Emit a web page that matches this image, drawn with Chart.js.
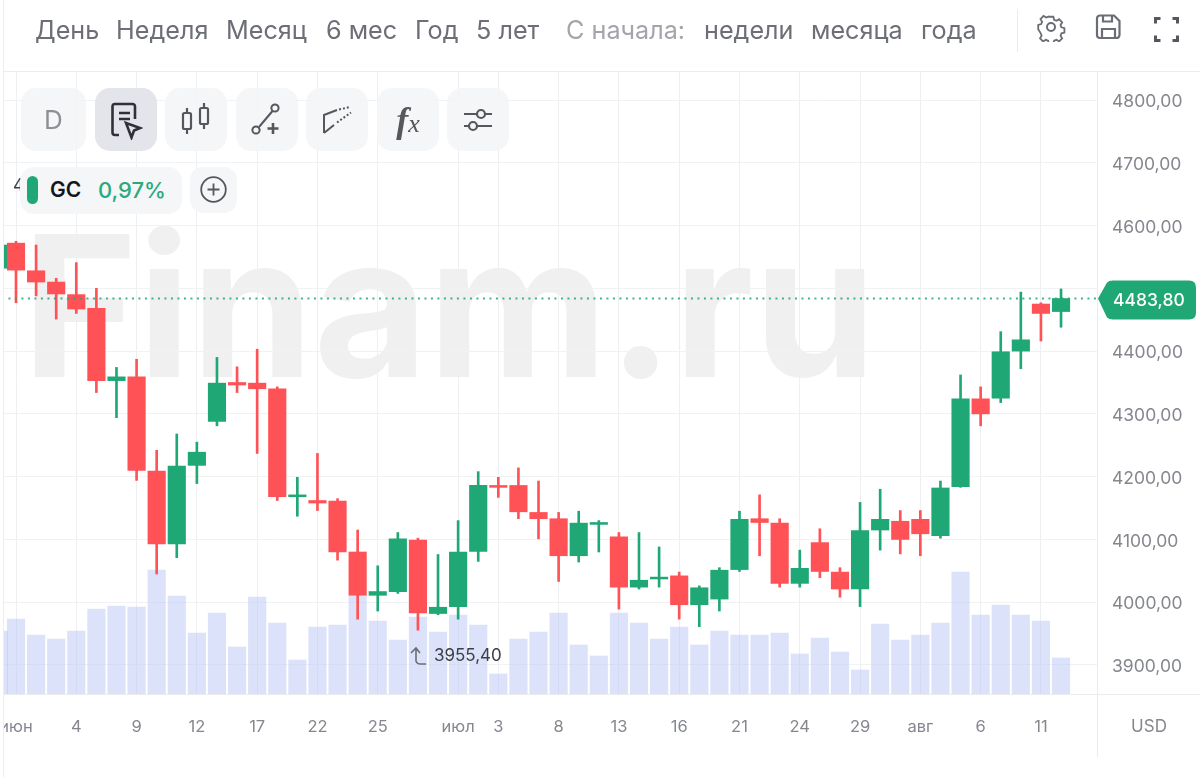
<!DOCTYPE html>
<html lang="ru">
<head>
<meta charset="utf-8">
<script src="https://cdn.jsdelivr.net/npm/chart.js@4"></script>
<style>
html,body{margin:0;padding:0;background:#fff;width:1200px;height:777px;overflow:hidden;font-family:Inter,sans-serif}
#wrap{position:relative;width:1200px;height:777px}
canvas{position:absolute;left:0;top:0}
.abs{position:absolute}
.nav{position:absolute;top:14px;font-size:25.200px;line-height:32px;color:#6d6f76;white-space:nowrap}
.nav.dim{color:#a3a5ab}
.btn{position:absolute;top:88px;width:62px;height:63px;border-radius:15px;background:rgba(243,244,247,.85);display:flex;align-items:center;justify-content:center;color:#6b6d74}
svg{display:block}
</style>
</head>
<body>
<div id="wrap">
<canvas id="c" width="1200" height="777"></canvas>

<div class="abs" style="left:0;top:694px;width:3px;height:40px;background:#fff"></div>
<div class="abs" style="left:3px;top:0;width:1px;height:777px;background:#eceded"></div>
<div class="abs" style="left:3px;top:71px;width:1197px;height:1px;background:#ebecee"></div>
<div class="abs" style="left:3px;top:694px;width:1197px;height:1px;background:#ebecee"></div>
<div class="abs" style="left:1097px;top:71px;width:1px;height:686px;background:#ebecee"></div>
<div class="abs" style="left:1017px;top:9px;width:1px;height:43px;background:#ebecee"></div>

<div class="nav" style="left:35px">День</div>
<div class="nav" style="left:116px">Неделя</div>
<div class="nav" style="left:226px">Месяц</div>
<div class="nav" style="left:326px">6 мес</div>
<div class="nav" style="left:415px">Год</div>
<div class="nav" style="left:476px">5 лет</div>
<div class="nav dim" style="left:566px">С начала:</div>
<div class="nav" style="left:704px">недели</div>
<div class="nav" style="left:811px">месяца</div>
<div class="nav" style="left:921px">года</div>

<svg class="abs" style="left:1036px;top:12px" width="30" height="30" viewBox="0 0 30 30" fill="none" stroke="#6b6d74" stroke-width="2"><circle cx="15" cy="15" r="4"/><path d="M12.5 3.5h5l.8 3.4 2.6 1.1 3-1.8 3.400 3.500-1.800 3 1 2.500 3.300.9v5l-3.300.8-1 2.600 1.800 3-3.400 3.400-3-1.800-2.600 1-.8 3.400h-5l-.8-3.400-2.600-1-3 1.800-3.400-3.400 1.800-3-1-2.600L.7 17.500v-5l3.300-.9 1-2.500-1.800-3 3.400-3.500 3 1.800 2.600-1.100z" transform="translate(1.600 1.600) scale(.9)"/></svg>
<svg class="abs" style="left:1095px;top:13px" width="27" height="27" viewBox="0 0 27 27" fill="none" stroke="#6b6d74" stroke-width="2.200"><path d="M5 2.500h14l5.500 5.500v14a3 3 0 0 1-3 3h-16.500a3 3 0 0 1-3-3v-16.500a3 3 0 0 1 3-3z"/><path d="M8 2.500v6h9v-6M7 25v-9h13v9"/></svg>
<svg class="abs" style="left:1154px;top:17px" width="25" height="25" viewBox="0 0 25 25" fill="none" stroke="#55575e" stroke-width="3"><path d="M1.500 6.500V1.500H6.500M18.500 1.500h5V6.500M23.500 18.500v5H18.500M6.500 23.500H1.500V18.500"/></svg>

<div class="btn" style="left:21px;width:65px;font-size:26px;color:#8d8f96">D</div>
<div class="btn" style="left:95px;background:#e4e5ea">
<svg width="34" height="40" viewBox="0 0 34 40" fill="none" stroke="#2f3138" stroke-width="2.600"><path d="M10 35H6a2.500 2.500 0 0 1-2.500-2.500v-26A2.500 2.500 0 0 1 6 4h17.500A2.500 2.500 0 0 1 26 6.500V19"/><path d="M10 13h11M10 19h11"/><path d="M17 23l14 5-6 2.500-2.500 7z"/></svg></div>
<div class="btn" style="left:165px"><svg width="32" height="36" viewBox="0 0 32 36" fill="none" stroke="#55575e" stroke-width="2.200"><rect x="3" y="11" width="8" height="16" rx="1.500"/><path d="M7 6v5M7 27v5"/><rect x="20" y="6" width="8" height="16" rx="1.500"/><path d="M24 1v5M24 22v5"/></svg></div>
<div class="btn" style="left:236px"><svg width="32" height="34" viewBox="0 0 32 34" fill="none" stroke="#55575e" stroke-width="2"><circle cx="5" cy="27" r="3.600"/><circle cx="24" cy="5" r="3.600"/><path d="M8 24L21.500 8"/><path d="M22 20v11M16.500 25.500h11" stroke-width="2.600"/></svg></div>
<div class="btn" style="left:306px"><svg width="32" height="32" viewBox="0 0 32 32" fill="none" stroke="#55575e" stroke-width="2"><path d="M3 29V11L16 6M3 29l10-8" /><path d="M18 5.500l11-2.500M16 18.500l14-10" stroke-dasharray="2 2"/></svg></div>
<div class="btn" style="left:377px;font-family:'Liberation Serif',serif;font-style:italic;color:#55575e;font-size:36px;font-weight:700"><span>f<span style="font-size:26px;font-weight:400">x</span></span></div>
<div class="btn" style="left:447px"><svg width="32" height="30" viewBox="0 0 32 30" fill="none" stroke="#55575e" stroke-width="2.200"><path d="M2 9h28M2 21h28"/><circle cx="19" cy="9" r="4" fill="#f4f5f7"/><circle cx="11" cy="21" r="4" fill="#f4f5f7"/></svg></div>

<div class="abs" style="left:13px;top:175px;font-size:17px;color:#3d4049">4</div>
<div class="abs" style="left:20px;top:167px;width:162px;height:47px;border-radius:14px;background:#f5f6f8"></div>
<div class="abs" style="left:27px;top:176px;width:11px;height:28px;border-radius:6px;background:#1fa876"></div>
<div class="abs" style="left:50px;top:177px;font-size:21px;line-height:26px;font-weight:600;color:#16171b">GC</div>
<div class="abs" style="left:98px;top:177px;font-size:22px;line-height:26px;font-weight:500;color:#2aa97c">0,97%</div>
<div class="abs" style="left:190px;top:167px;width:47px;height:46px;border-radius:13px;background:#f5f6f8"></div>
<svg class="abs" style="left:200px;top:176px" width="27" height="27" viewBox="0 0 27 27" fill="none" stroke="#55575e" stroke-width="1.800"><circle cx="13.500" cy="13.500" r="12.300"/><path d="M13.500 7.500v12M7.500 13.500h12"/></svg>

<div class="abs" style="left:1120px;top:715px;width:58px;text-align:center;font-size:17px;line-height:22px;color:#85878e">USD</div>
<svg class="abs" style="left:409px;top:646px" width="18" height="20" viewBox="0 0 18 20" fill="none" stroke="#6b6d74" stroke-width="1.600"><path d="M2 7l5-5 4 5M7 3v10a4 4 0 0 0 4 5h6"/></svg>
</div>

<script>
const tickSlots  = [1,4,7,10,13,16,19,23,25,28,31,34,37,40,43,46,49,52];
const tickLabels = ['июн','4','9','12','17','22','25','июл','3','8','13','16','21','24','29','авг','6','11'];
const priceTicks = [3900,4000,4100,4200,4300,4400,4500,4600,4700,4800];

const slots = [0.15,1,2,3,4,5,6,7,8,9,10,11,12,13,14,15,16,17,18,19,20,21,22,23,24,25,26,27,28,29,30,31,32,33,34,35,36,37,38,39,40,41,42,43,44,45,46,47,48,49,50,51,52,53];
const opens  = [4532,4572,4528,4510,4490,4468,4353,4359,4209,4093,4218,4288,4350,4349,4340,4168,4162,4161,4080,4011,4017,4099,3982,3993,4081,4186,4186,4143,4133,4074,4124,4104,4024,4037,4042,3996,4005,4052,4133,4126,4030,4095,4048,4021,4115,4129,4132,4106,4184,4324,4325,4400,4475,4463];
const highs  = [4572,4575,4569,4516,4541,4500,4374,4387,4242,4268,4255,4390,4375,4403,4343,4199,4237,4165,4115,4058,4111,4102,4076,4130,4208,4199,4214,4193,4143,4145,4130,4111,4111,4088,4048,4026,4055,4145,4171,4133,4083,4117,4055,4159,4180,4146,4146,4193,4362,4343,4431,4494,4477,4499];
const lows   = [4530,4477,4488,4451,4460,4334,4294,4194,4045,4071,4189,4281,4334,4237,4162,4137,4146,4067,3973,3986,4014,3955.4,3980,3973,4065,4167,4133,4101,4033,4064,4080,3989,4021,4024,3973,3961,3986,4049,4074,4024,4024,4039,4008,3993,4083,4077,4074,4102,4183,4281,4318,4372,4416,4438];
const closes = [4569,4529,4510,4491,4467,4353,4359,4210,4093,4217,4239,4349,4346,4340,4168,4171,4158,4080,4011,4017,4101,3983,3992,4080,4186,4183,4144,4133,4074,4126,4127,4024,4035,4040,3996,4023,4051,4132,4127,4030,4054,4049,4021,4114,4132,4100,4109,4182,4324,4300,4399,4418,4460,4483.8];
const volumes = [63,75,59,55,63,85,88,87,124,98,61,81,47,97,71,34,67,69,98,73,54,77,62,79,69,20,55,62,81,49,38,81,71,55,67,49,63,59,59,61,40,56,42,24,70,54,59,71,122,79,89,79,73,36];

const UP = '#1fa876', DOWN = '#ff5256';
const lastPrice = closes[closes.length - 1];
const lowPrice = Math.min(...lows);
const lowSlot = slots[lows.indexOf(lowPrice)];
const fmt = v => v.toFixed(2).replace('.', ',');
const colors = opens.map((o, i) => closes[i] >= o ? UP : DOWN);

const watermark = {
  id: 'watermark',
  beforeDraw(chart) {
    const c = chart.ctx;
    c.save();
    c.fillStyle = '#fff';
    c.fillRect(0, 0, 1200, 777);
    c.fillStyle = '#f0f0f0';
    c.font = '700 197px Inter, sans-serif';
    c.textBaseline = 'alphabetic';
    c.textAlign = 'left';
    c.fillText('Finam.ru', 22, 377);
    c.restore();
    chart.scales.y.getLabelItems().forEach(item => { item.options.translation[1] += 2; });
  }
};
const overlays = {
  id: 'overlays',
  afterDraw(chart) {
    const c = chart.ctx, y = chart.scales.y, x = chart.scales.x;
    const py = y.getPixelForValue(lastPrice);
    c.save();
    c.fillStyle = UP;
    c.beginPath();
    const l = 1098, t = py - 18, r = 1196, b = py + 21, rad = 7;
    c.moveTo(l, py);
    c.lineTo(l + 9, t + 2);
    c.quadraticCurveTo(l + 11, t, l + 15, t);
    c.lineTo(r - rad, t);
    c.quadraticCurveTo(r, t, r, t + rad);
    c.lineTo(r, b - rad);
    c.quadraticCurveTo(r, b, r - rad, b);
    c.lineTo(l + 15, b);
    c.quadraticCurveTo(l + 11, b, l + 9, b - 2);
    c.closePath();
    c.fill();
    c.fillStyle = '#fff';
    c.font = '500 17.500px Inter, sans-serif';
    c.textAlign = 'left';
    c.textBaseline = 'middle';
    c.fillText(fmt(lastPrice), 1113, py + 2.5);
    c.fillStyle = '#3d4049';
    c.font = '400 17px Inter, sans-serif';
    c.fillText(fmt(lowPrice), x.getPixelForValue(lowSlot) + 16, y.getPixelForValue(lowPrice) + 26);
    c.restore();
  }
};

new Chart(document.getElementById('c'), {
  type: 'bar',
  plugins: [watermark, overlays],
  data: {
    datasets: [
      { type: 'line', label: 'Последняя цена', order: 0, yAxisID: 'y',
        data: [{ x: 0.3, y: lastPrice }, { x: 55, y: lastPrice }],
        borderColor: 'rgba(31,168,118,.85)', borderWidth: 2, borderDash: [2, 4.500], pointRadius: 0 },
      { label: 'GC', order: 1, yAxisID: 'y', barThickness: 17.500, grouped: false,
        data: slots.map((s, i) => ({ x: s, y: [opens[i], closes[i]] })),
        backgroundColor: colors, borderColor: colors, borderWidth: 0 },
      { label: 'Тени', order: 2, yAxisID: 'y', barThickness: 2, grouped: false,
        data: slots.map((s, i) => ({ x: s, y: [lows[i], highs[i]] })),
        backgroundColor: colors, borderWidth: 0 },
      { label: 'Объём', order: 3, yAxisID: 'vol', barThickness: 17.500, grouped: false,
        data: slots.map((s, i) => ({ x: s, y: volumes[i] })),
        backgroundColor: 'rgba(186,198,245,.5)', borderWidth: 0 }
    ]
  },
  options: {
    responsive: false,
    animation: false,
    devicePixelRatio: 1,
    layout: { padding: { left: 3, top: 71, right: 0, bottom: 0 } },
    plugins: { legend: { display: false }, tooltip: { enabled: false } },
    scales: {
      x: {
        type: 'linear', min: 0.353, max: 54.79, offset: false,
        afterFit(s) { s.height = 83; s.paddingLeft = 0; s.paddingRight = 0; },
        afterBuildTicks(s) { s.ticks = tickSlots.map(v => ({ value: v })); },
        grid: { color: '#eeeff2', lineWidth: 1, drawTicks: false, offset: false },
        border: { display: false },
        ticks: {
          autoSkip: false, maxRotation: 0, padding: 23,
          color: '#85878e', font: { family: 'Inter', size: 16.500 },
          callback: v => tickLabels[tickSlots.indexOf(v)]
        }
      },
      y: {
        position: 'right', min: 3853.8, max: 4846.2,
        afterFit(s) { s.width = 103; s.paddingTop = 0; s.paddingBottom = 0; },
        afterBuildTicks(s) { s.ticks = priceTicks.map(v => ({ value: v })); },
        grid: { color: '#f1f2f4', lineWidth: 1, drawTicks: false },
        border: { display: false },
        ticks: {
          padding: 15, color: '#85878e',
          font: { family: 'Inter', size: 17.500 },
          callback: v => fmt(v)
        }
      },
      vol: { display: false, min: 0, max: 623 }
    }
  }
});
</script>
</body>
</html>
